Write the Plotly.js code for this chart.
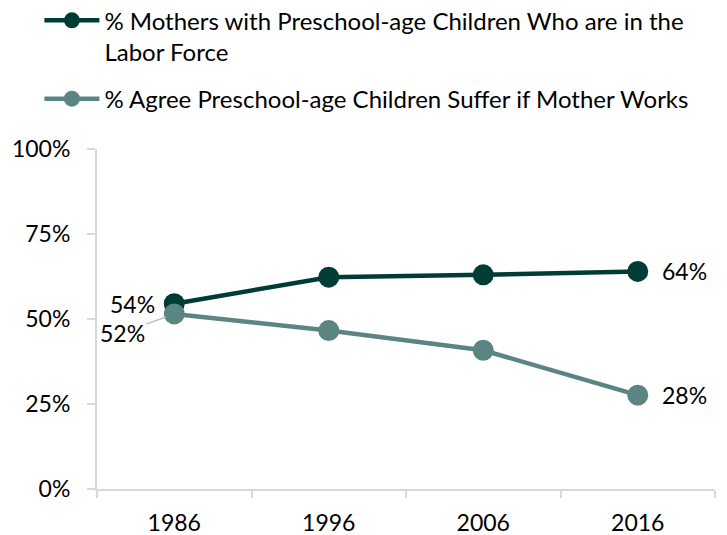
<!DOCTYPE html>
<html>
<head>
<meta charset="utf-8">
<script src="https://cdn.plot.ly/plotly-3.0.1.min.js"></script>
<style>html,body{margin:0;padding:0;background:#fff;}#chart{width:727px;height:535px;}</style>
</head>
<body>
<div id="chart"></div>
<script>
var years = [1986, 1996, 2006, 2016];
var yearLabels = ['1986', '1996', '2006', '2016'];
var mothersLabor = [54.5, 62.3, 63.0, 64.0];
var agreeSuffer = [51.5, 46.6, 40.8, 27.6];
var mothersLabels = ['54%', '', '', '64%'];
var agreeLabels = ['52%', '', '', '28%'];
var seriesNames = ['% Mothers with Preschool-age Children Who are in the<br>Labor Force', '% Agree Preschool-age Children Suffer if Mother Works'];
var yTickVals = [0, 25, 50, 75, 100];
var yTickText = ['0%', '25%', '50%', '75%', '100%'];

var dark = '#003c36';
var light = '#5b8582';
var font = 'Lato, "Open Sans", sans-serif';
var fs = 23;

var traces = [
  {x: years, y: mothersLabor, name: seriesNames[0], legendgroup: 'a', mode: 'lines+markers',
   line: {color: dark, width: 4.5}, marker: {color: dark, size: 21}},
  {x: years, y: agreeSuffer, name: seriesNames[1], legendgroup: 'b', mode: 'lines+markers',
   line: {color: light, width: 4.5}, marker: {color: light, size: 21}}
];

var annotations = [
  {x: years[0], y: mothersLabor[0], text: mothersLabels[0], showarrow: false, xanchor: 'right', xshift: -17, yshift: 0, font: {size: fs, color: '#000', family: font}},
  {x: years[0], y: agreeSuffer[0], text: agreeLabels[0], showarrow: true, arrowhead: 0, arrowwidth: 1.5, arrowcolor: '#bfbfbf', ax: -52, ay: 19, font: {size: fs, color: '#000', family: font}, standoff: 9},
  {x: years[3], y: mothersLabor[3], text: mothersLabels[3], showarrow: false, xanchor: 'left', xshift: 22, font: {size: fs, color: '#000', family: font}},
  {x: years[3], y: agreeSuffer[3], text: agreeLabels[3], showarrow: false, xanchor: 'left', xshift: 22, font: {size: fs, color: '#000', family: font}}
];

var layout = {
  width: 727, height: 535,
  margin: {l: 97, r: 12, t: 149, b: 46, autoexpand: false},
  paper_bgcolor: '#fff', plot_bgcolor: '#fff',
  font: {family: font, size: fs, color: '#000'},
  showlegend: true,
  legend: {x: -0.0932, y: 1.4435, xanchor: 'left', yanchor: 'top', orientation: 'v',
           font: {size: 24, color: '#000', family: font}, itemwidth: 55,
           tracegroupgap: 13, valign: 'top', bgcolor: 'rgba(0,0,0,0)'},
  xaxis: {range: [1981, 2021], tickmode: 'array', tickvals: years, ticktext: yearLabels,
          ticks: '', showgrid: false, zeroline: false, showline: true, ticklabelstandoff: 12,
          linecolor: '#d9d9d9', linewidth: 2, tickfont: {size: fs, family: font, color: '#000'},
          minor: {tickmode: 'linear', tick0: 1981, dtick: 10, ticks: 'outside', ticklen: 7, tickcolor: '#d9d9d9', tickwidth: 2, showgrid: false},
          fixedrange: true},
  yaxis: {range: [0, 100], tickmode: 'array', tickvals: yTickVals, ticktext: yTickText,
          ticks: 'outside', ticklen: 8, tickcolor: '#d9d9d9', tickwidth: 2, ticklabelstandoff: 12,
          showgrid: false, zeroline: false, showline: true, linecolor: '#d9d9d9', linewidth: 2,
          tickfont: {size: fs, family: font, color: '#000'}, fixedrange: true},
  annotations: annotations
};

Plotly.newPlot('chart', traces, layout, {displayModeBar: false, staticPlot: true});
</script>
</body>
</html>
